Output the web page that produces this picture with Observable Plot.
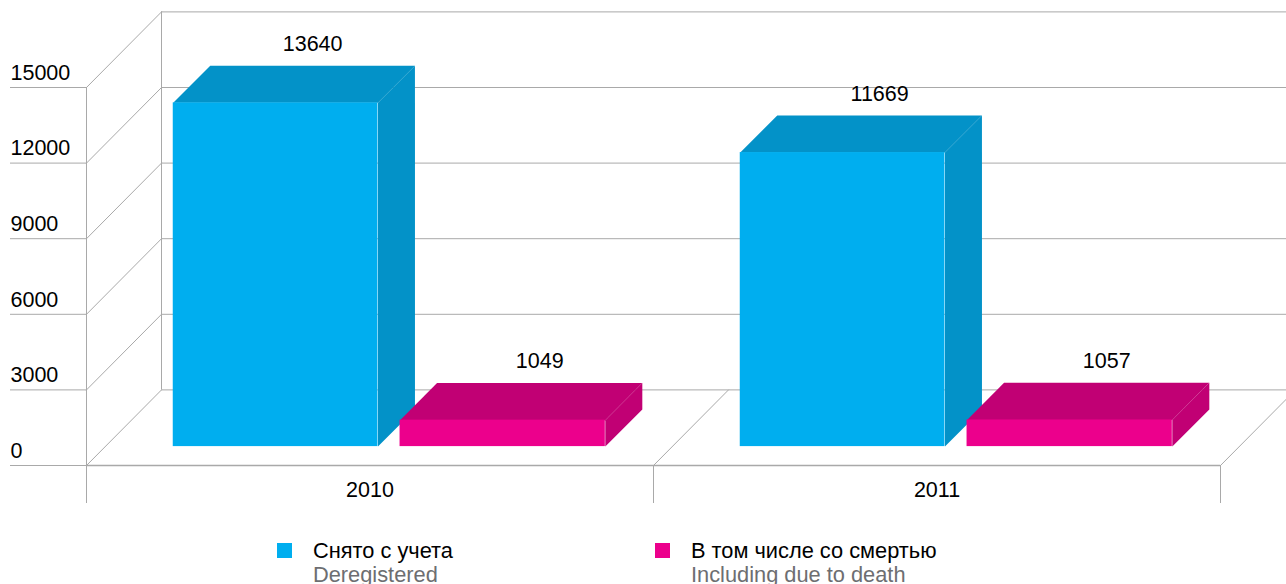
<!DOCTYPE html>
<html lang="ru">
<head>
<meta charset="utf-8">
<script src="https://cdn.jsdelivr.net/npm/d3@7"></script>
<script src="https://cdn.jsdelivr.net/npm/@observablehq/plot@0.6"></script>
<style>
html,body{margin:0;padding:0;background:#fff;overflow:hidden;width:1286px;height:584px}
#chart{position:relative;width:1286px;height:584px;font-family:"Liberation Sans",Arial,sans-serif;overflow:hidden}
#chart svg{display:block;overflow:hidden}
.item{position:absolute;top:539px;font-size:21.8px;line-height:24px;color:#000;white-space:nowrap}
.item .en{color:#6d6e71}
.sw{position:absolute;top:543px;width:14.5px;height:15px}
</style>
</head>
<body>
<div id="chart"></div>
<script>
const categories = ["2010", "2011"];
const deregistered = [13640, 11669];
const death = [1049, 1057];
const yTicks = [0, 3000, 6000, 9000, 12000, 15000];
const seriesRu = ["Снято с учета", "В том числе со смертью"];
const seriesEn = ["Deregistered", "Including due to death"];
const frontColors = ["#00aeef", "#ec008c"];
const shadeColors = ["#0392c8", "#c10074"];
const gridColor = "#a9a9a9";

// Projection of the pseudo-3D box, in scale units
const wallX = 0.1323, wallY = 3000;     // depth of the back wall
const boxX = 0.0653, boxY = 1472;       // depth of a bar
const floorY = 750;                     // lift of a bar's front base
const slots = [[0.153, 0.514], [0.553, 0.915]];

const bars = [];
[deregistered, death].forEach((vals, s) => {
  categories.forEach((c, i) => {
    bars.push({s, v: vals[i], x1: i + slots[s][0], x2: i + slots[s][1], y1: floorY, y2: floorY + vals[i]});
  });
});

const face = (fn) => bars.flatMap((b, id) => fn(b).map(([x, y]) => ({id, s: b.s, x, y})));
const tops = face(b => [[b.x1, b.y2], [b.x2, b.y2], [b.x2 + boxX, b.y2 + boxY], [b.x1 + boxX, b.y2 + boxY]]);
const sides = face(b => [[b.x2, b.y1], [b.x2, b.y2], [b.x2 + boxX, b.y2 + boxY], [b.x2 + boxX, b.y1 + boxY]]);
const wallTop = yTicks[yTicks.length - 1] + wallY;
const diagLeft = yTicks.flatMap(t => [{z: t, x: 0, y: t}, {z: t, x: wallX, y: t + wallY}]);
const diagFloor = [1, 2].flatMap(k => [{z: k, x: k, y: 0}, {z: k, x: k + wallX, y: wallY}]);
const shadeFill = d => shadeColors[d.s];

// each series is painted whole, so the pink boxes sit over the blue sides
const barMarks = [0, 1].flatMap(s => [
  Plot.line(tops.filter(d => d.s === s), {x: "x", y: "y", z: "id", curve: "linear-closed", fill: shadeFill, stroke: "none"}),
  Plot.line(sides.filter(d => d.s === s), {x: "x", y: "y", z: "id", curve: "linear-closed", fill: shadeFill, stroke: "none"}),
  Plot.rect(bars.filter(d => d.s === s), {x1: "x1", x2: "x2", y1: "y1", y2: "y2", fill: d => frontColors[d.s]})
]);

const plot = Plot.plot({
  width: 1286, height: 520,
  marginLeft: 86, marginRight: 66, marginTop: 87, marginBottom: 55,
  x: {domain: [0, 2], axis: null},
  y: {domain: [0, 15000], axis: null},
  style: {fontFamily: '"Liberation Sans",Arial,sans-serif', fontSize: "21.5px", color: "#000", background: "transparent"},
  marks: [
    // back wall
    Plot.ruleY(yTicks.map(t => t + wallY), {x1: wallX, x2: 2.3, stroke: gridColor, strokeWidth: 1}),
    Plot.ruleX([wallX], {y1: wallY, y2: wallTop, stroke: gridColor, strokeWidth: 1}),
    // left wall and floor diagonals
    Plot.line(diagLeft, {x: "x", y: "y", z: "z", stroke: gridColor, strokeWidth: 1}),
    Plot.line(diagFloor, {x: "x", y: "y", z: "z", stroke: gridColor, strokeWidth: 1}),
    Plot.ruleX([0], {y1: 0, y2: 15000, stroke: gridColor, strokeWidth: 1}),
    Plot.ruleY([0], {x1: 0, x2: 2, stroke: gridColor, strokeWidth: 1.5}),
    // axes
    Plot.axisY({ticks: yTicks, tickSize: 76, tickFormat: () => "", stroke: gridColor}),
    Plot.axisY({ticks: yTicks, tickSize: 0, tickPadding: 0, textAnchor: "start", dx: -76, dy: -14.5, tickFormat: d => String(d), fill: "#000"}),
    Plot.axisX({ticks: [0, 1, 2], tickSize: 38, tickFormat: () => "", stroke: gridColor}),
    Plot.axisX({ticks: [0.5, 1.5], tickSize: 0, tickPadding: 0, dy: 16, tickFormat: d => categories[Math.floor(d)], fill: "#000"}),
    // bars
    ...barMarks,
    // value labels
    Plot.text(bars, {x: d => (d.x1 + d.x2) / 2 + boxX, y: d => d.y2 + boxY, text: d => String(d.v), dy: -21.5, fill: "#000"})
  ]
});
const root = document.getElementById("chart");
root.appendChild(plot);

const legendX = [[277, 313], [655, 691]];
seriesRu.forEach((name, i) => {
  const sw = document.createElement("div");
  sw.className = "sw";
  sw.style.left = legendX[i][0] + "px";
  sw.style.background = frontColors[i];
  root.appendChild(sw);
  const it = document.createElement("div");
  it.className = "item";
  it.style.left = legendX[i][1] + "px";
  it.innerHTML = `<div>${name}</div><div class="en">${seriesEn[i]}</div>`;
  root.appendChild(it);
});
</script>
</body>
</html>
